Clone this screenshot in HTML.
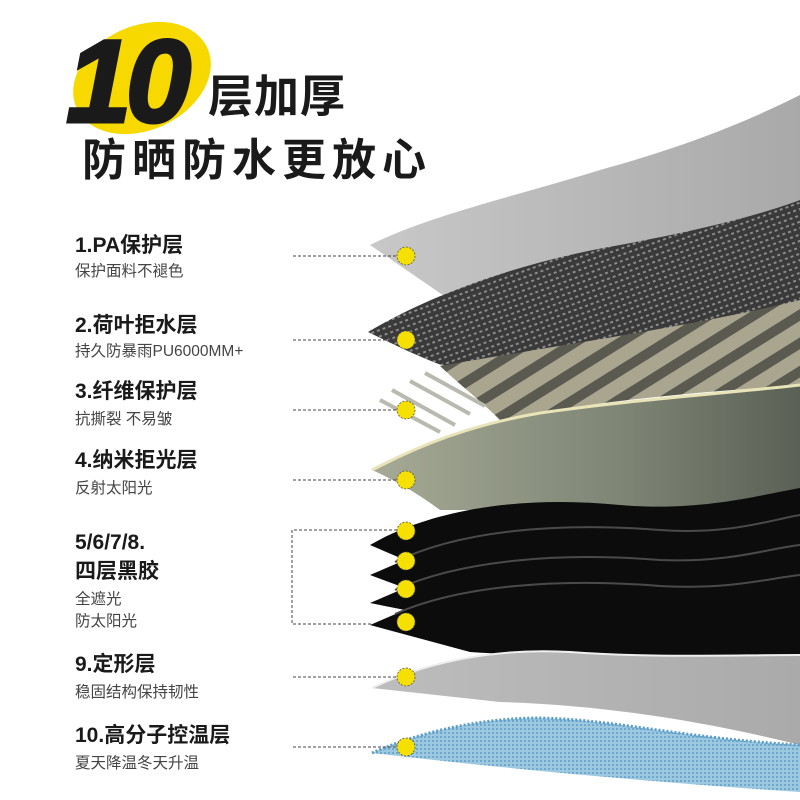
<!DOCTYPE html>
<html><head><meta charset="utf-8"><style>
html,body{margin:0;padding:0;background:#fff}
body{width:800px;height:800px;position:relative;overflow:hidden;font-family:"Liberation Sans","Noto Sans CJK SC",sans-serif}
.t{position:absolute;left:75px;font-size:21px;color:#1a1a1a;font-weight:bold;white-space:nowrap;line-height:1}
.s{position:absolute;left:75px;font-size:15.5px;color:#444;white-space:nowrap;line-height:1}
</style></head><body>
<svg width="800" height="800" style="position:absolute;left:0;top:0">
<defs>
<pattern id="mesh" width="6" height="6" patternUnits="userSpaceOnUse" patternTransform="rotate(-20)">
<rect width="6" height="6" fill="#3a3a3a"/><rect x="1" y="1" width="3" height="2" fill="#8a8a8a"/></pattern>
<pattern id="blue" width="4" height="4" patternUnits="userSpaceOnUse">
<rect width="4" height="4" fill="#9cc8e0"/><rect x="0" y="0" width="2" height="2" fill="#6fa8cc"/></pattern>
<pattern id="strip" width="24" height="10" patternUnits="userSpaceOnUse" patternTransform="rotate(58)">
<rect width="24" height="10" fill="#5a5a50"/><rect width="14" height="10" fill="#a9a58e"/></pattern>
<linearGradient id="g1" x1="0" y1="0" x2="1" y2="0"><stop offset="0" stop-color="#c8c8c8"/><stop offset="1" stop-color="#a9a9a9"/></linearGradient>
<linearGradient id="g4" x1="0" y1="0" x2="1" y2="0"><stop offset="0" stop-color="#a6aa96"/><stop offset="0.6" stop-color="#7d8474"/><stop offset="1" stop-color="#5a6055"/></linearGradient>
<linearGradient id="g9" x1="0" y1="0" x2="1" y2="0"><stop offset="0" stop-color="#bdbdbd"/><stop offset="1" stop-color="#aaaaaa"/></linearGradient>
</defs>
<!-- layer1 gray -->
<path d="M370 245 C430 215 520 195 600 170 C680 148 740 125 800 95 L800 210 L450 300 Z" fill="url(#g1)"/>
<!-- layer2 mesh -->
<path d="M368 332 C430 295 520 262 620 245 C700 230 760 215 800 200 L800 310 C700 330 560 350 460 372 C420 358 395 345 368 332 Z" fill="url(#mesh)"/>
<!-- strips region -->
<path d="M440 366 C560 345 700 325 800 300 L800 385 C700 392 600 400 500 420 C480 400 460 385 440 366 Z" fill="url(#strip)"/>
<g stroke="#b9b9b0" stroke-width="4"><line x1="380" y1="400" x2="440" y2="432"/><line x1="392" y1="390" x2="455" y2="425"/><line x1="410" y1="381" x2="470" y2="414"/><line x1="425" y1="373" x2="485" y2="406"/></g>
<!-- layer4 green -->
<path d="M372 470 C420 445 470 425 540 413 C630 400 720 394 800 385 L800 510 L440 510 C420 495 395 480 372 470 Z" fill="url(#g4)"/>
<path d="M372 470 C420 445 470 425 540 413 C630 400 720 394 800 385" fill="none" stroke="#e8e4b8" stroke-width="3"/>
<!-- black layers -->
<path d="M370 545 C430 510 520 495 620 505 C700 512 760 495 800 488 L800 665 C700 660 560 658 470 652 L370 625 L405 610 L370 603 L405 588 L370 575 L405 560 Z" fill="#0c0c0c"/>
<g fill="none" stroke="#4a4a4a" stroke-width="2">
<path d="M395 562 C460 530 560 522 660 530 C730 535 770 520 800 515"/>
<path d="M395 590 C460 560 560 552 660 560 C730 563 770 548 800 545"/>
<path d="M395 614 C460 585 560 578 660 586 C730 590 770 578 800 575"/>
</g>
<!-- layer9 gray -->
<path d="M372 688 C430 660 500 648 570 652 C650 658 730 655 800 655 L800 745 C700 720 600 705 500 702 Z" fill="url(#g9)"/>
<path d="M372 688 C430 660 500 648 570 652 C650 658 730 655 800 655" fill="none" stroke="#eee" stroke-width="2"/>
<!-- layer10 blue -->
<path d="M372 753 C420 732 480 718 540 718 C620 720 680 738 800 745 L800 792 C650 782 500 768 372 753 Z" fill="url(#blue)"/>
<path d="M372 753 C420 732 480 718 540 718 C620 720 680 738 800 745" fill="none" stroke="#5a9ec8" stroke-width="3" stroke-dasharray="2 2"/>
<!-- dashes -->
<g stroke="#444" stroke-width="1" stroke-dasharray="3 2" fill="none">
<line x1="293" y1="256" x2="397" y2="256"/>
<line x1="293" y1="340" x2="397" y2="340"/>
<line x1="293" y1="410" x2="397" y2="410"/>
<line x1="293" y1="480" x2="397" y2="480"/>
<path d="M397 530 H292 V624 H372"/>
<line x1="293" y1="677" x2="397" y2="677"/>
<line x1="293" y1="747" x2="397" y2="747"/>
</g>
<g fill="#f5e000" stroke="#555" stroke-width="0.8" stroke-dasharray="2 1.5">
<circle cx="406" cy="256" r="9"/><circle cx="406" cy="340" r="9"/><circle cx="406" cy="410" r="9"/><circle cx="406" cy="480" r="9"/>
<circle cx="406" cy="531" r="9"/><circle cx="406" cy="561" r="9"/><circle cx="406" cy="589" r="9"/><circle cx="406" cy="622" r="9"/>
<circle cx="406" cy="677" r="9"/><circle cx="406" cy="747" r="9"/>
</g>
<!-- title -->
<ellipse cx="142" cy="78" rx="72" ry="52" transform="rotate(-25 142 78)" fill="#f7d900"/>
<text x="66" y="122" font-family="Liberation Sans,sans-serif" font-size="118" font-weight="bold" font-style="italic" fill="#1a1a1a" letter-spacing="-6" stroke="#1a1a1a" stroke-width="3">10</text>
</svg>
<div style="position:absolute;left:208px;top:74px;font-size:45px;font-weight:bold;color:#1a1a1a;line-height:1;letter-spacing:1px">层加厚</div>
<div style="position:absolute;left:82px;top:139px;font-size:44px;font-weight:bold;color:#1a1a1a;line-height:1;letter-spacing:6px">防晒防水更放心</div>
<div class="t" style="top:235px">1.PA保护层</div><div class="s" style="top:264px">保护面料不褪色</div>
<div class="t" style="top:315px">2.荷叶拒水层</div><div class="s" style="top:344px">持久防暴雨PU6000MM+</div>
<div class="t" style="top:381px">3.纤维保护层</div><div class="s" style="top:412px">抗撕裂 不易皱</div>
<div class="t" style="top:450px">4.纳米拒光层</div><div class="s" style="top:481px">反射太阳光</div>
<div class="t" style="top:532px">5/6/7/8.</div><div class="t" style="top:561px">四层黑胶</div>
<div class="s" style="top:592px">全遮光</div><div class="s" style="top:614px">防太阳光</div>
<div class="t" style="top:654px">9.定形层</div><div class="s" style="top:685px">稳固结构保持韧性</div>
<div class="t" style="top:725px">10.高分子控温层</div><div class="s" style="top:756px">夏天降温冬天升温</div>
</body></html>
